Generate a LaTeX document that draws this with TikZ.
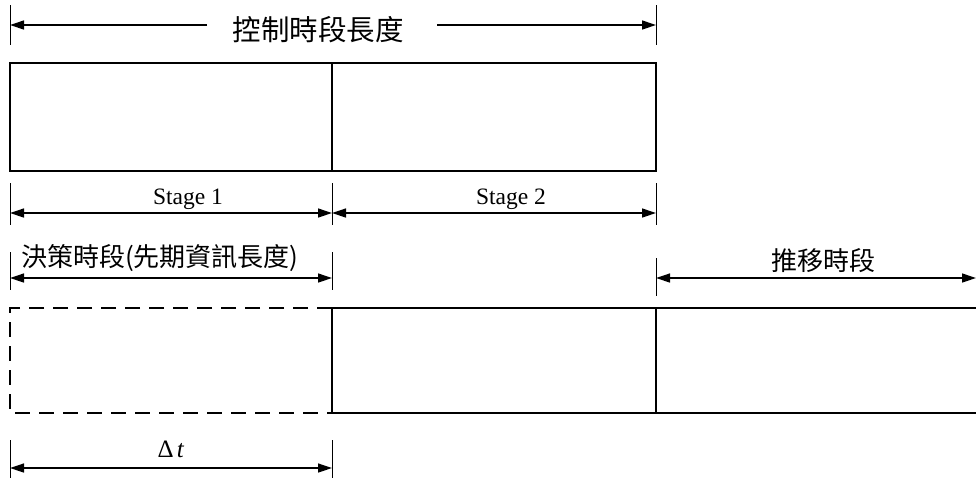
\documentclass[tikz,border=0pt]{standalone}
\usepackage{fontspec}
\setmainfont{Liberation Serif}
\newfontfamily\cjk{Noto Sans CJK TC}
\usetikzlibrary{arrows.meta}
\begin{document}
\begin{tikzpicture}[x=1pt,y=-1pt,
  box/.style={draw,line width=1.6pt,minimum width=#1,minimum height=108pt,inner sep=0pt,outer sep=0pt},
  tick/.style={line width=1pt},
  dim/.style={line width=1.3pt,{Triangle[length=14pt,width=9pt]}-{Triangle[length=14pt,width=9pt]}},
  half/.style={line width=1.3pt,-{Triangle[length=14pt,width=9pt]}},
  lab/.style={inner sep=0pt,anchor=base}]
\useasboundingbox (0,0) rectangle (976,480);
% top dimension
\coordinate (t0a) at (10,5); \coordinate (t0b) at (10,45);
\coordinate (t1a) at (656,5); \coordinate (t1b) at (656,45);
\draw[tick] (t0a) -- (t0b);
\draw[tick] (t1a) -- (t1b);
\node[lab,font=\cjk\fontsize{28.5}{30}\selectfont] (title) at (318,40) {控制時段長度};
\coordinate (ta) at (10,25); \coordinate (tb) at (656,25);
\coordinate (tl) at (207,25); \coordinate (tr) at (437,25);
\draw[half] (tl) -- (ta);
\draw[half] (tr) -- (tb);
% top boxes
\node[box=322pt] (s1) at (171,117) {};
\node[box=324pt] (s2) at (494,117) {};
% stage dims
\foreach \x/\n in {10/a,332/b,656/c}{
  \coordinate (st\n1) at (\x,183); \coordinate (st\n2) at (\x,225);
  \draw[tick] (st\n1) -- (st\n2);}
\coordinate (sa) at (10,213); \coordinate (sb) at (332,213); \coordinate (sc) at (656,213);
\draw[dim] (sa) -- (sb);
\draw[dim] (sb) -- (sc);
\node[lab,font=\fontsize{23.5}{26}\selectfont] (st1) at (188,204) {Stage 1};
\node[lab,font=\fontsize{23.5}{26}\selectfont] (st2) at (511,204) {Stage 2};
% decision period
\foreach \x/\n in {10/a,332/b}{
  \coordinate (d\n1) at (\x,252); \coordinate (d\n2) at (\x,290);
  \draw[tick] (d\n1) -- (d\n2);}
\coordinate (da) at (10,278); \coordinate (db) at (332,278);
\draw[dim] (da) -- (db);
\node[lab,font=\cjk\fontsize{26}{28}\selectfont,anchor=base west] (dec) at (21,266) {決策時段(先期資訊長度)};
% rolling period
\coordinate (r1) at (656,258); \coordinate (r2) at (656,296);
\draw[tick] (r1) -- (r2);
\coordinate (ra) at (656,278); \coordinate (rb) at (976,278);
\draw[dim] (ra) -- (rb);
\node[lab,font=\cjk\fontsize{26}{28}\selectfont] (roll) at (823,270) {推移時段};
% bottom boxes
\coordinate (p1) at (332,308); \coordinate (p2) at (10,308);
\coordinate (p3) at (10,413); \coordinate (p4) at (332,413);
\draw[line width=1.6pt,dash pattern=on 15pt off 9pt] (p1) -- (p2) -- (p3) -- (p4);
\coordinate (q1) at (976,308); \coordinate (q2) at (976,413);
\coordinate (m1) at (656,308); \coordinate (m2) at (656,413);
\draw[line width=1.6pt] (q1) -- (p1) -- (p4) -- (q2);
\draw[line width=1.6pt] (m1) -- (m2);
% delta t
\foreach \x/\n in {10/a,332/b}{
  \coordinate (e\n1) at (\x,440); \coordinate (e\n2) at (\x,478);
  \draw[tick] (e\n1) -- (e\n2);}
\coordinate (ea) at (10,468); \coordinate (eb) at (332,468);
\draw[dim] (ea) -- (eb);
\node[lab,font=\fontsize{25}{27}\selectfont] (dt) at (171,457) {Δ\hspace{3pt}\textit{t}};
\end{tikzpicture}
\end{document}
